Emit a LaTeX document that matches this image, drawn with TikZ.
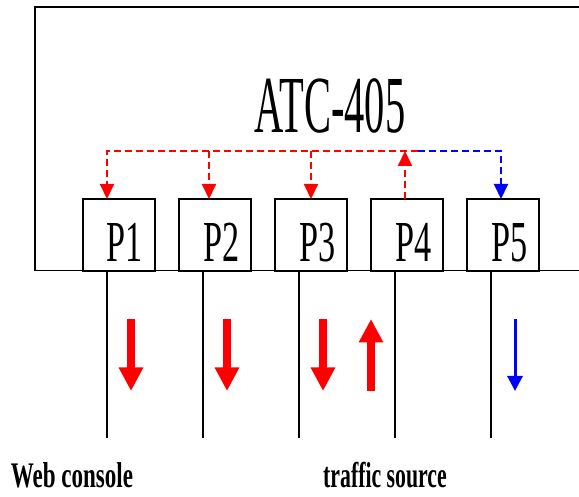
\documentclass[tikz,border=0pt]{standalone}
\usepackage{fontspec}
\setmainfont{Liberation Serif}
\usepackage{graphicx}
\usetikzlibrary{arrows.meta,calc}
\begin{document}
\begin{tikzpicture}[x=1pt,y=-1pt,
  frame/.style={line width=1.8pt},
  pbox/.style={draw, line width=1.8pt, minimum width=72pt, minimum height=72pt, inner sep=0pt, outer sep=0pt},
  plabel/.style={anchor=base, inner sep=0pt, font=\fontsize{58}{58}\selectfont},
  rlink/.style={red, line width=2pt, dash pattern=on 7pt off 4pt},
  blink/.style={blue, line width=2pt, dash pattern=on 7pt off 4pt},
  tipd/.style={-{Triangle[width=14pt,length=15pt]}},
  wire/.style={line width=1.8pt},
  bigarrow/.style={red, line width=8pt, -{Triangle[width=23pt,length=23.5pt]}},
  smallarrow/.style={blue, line width=3pt, -{Triangle[width=15pt,length=15pt]}},
  caption/.style={anchor=base, inner sep=0pt, font=\fontsize{36}{36}\selectfont\bfseries}
]
\useasboundingbox (0,0) rectangle (579,497);
\fill[white] (0,0) rectangle (579,497);
% device frame
\draw[frame] (585,7) -- (35,7) -- (35,270.5) -- (585,270.5);
\node[anchor=base, inner sep=0pt] (title) at (330,133) {\fontsize{81}{81}\selectfont\scalebox{0.5}[1]{ATC-405}};
% ports
\node[pbox] (P1) at (119,235) {};
\node[pbox] (P2) at (215,235) {};
\node[pbox] (P3) at (311,235) {};
\node[pbox] (P4) at (407,235) {};
\node[pbox] (P5) at (503,235) {};
\node[plabel] (t1) at (124.5,262) {\scalebox{0.59}[1]{P1}};
\node[plabel] (t2) at (221.5,262) {\scalebox{0.59}[1]{P2}};
\node[plabel] (t3) at (317.5,262) {\scalebox{0.59}[1]{P3}};
\node[plabel] (t4) at (414,262) {\scalebox{0.59}[1]{P4}};
\node[plabel] (t5) at (510,262) {\scalebox{0.59}[1]{P5}};
% internal bus
\coordinate (bus) at (0,151);
\coordinate (d1) at ($(P1.north)+(-12,0)$);
\coordinate (d2) at ($(P2.north)+(-6,0)$);
\coordinate (d3) at ($(P3.north)+(0,0)$);
\coordinate (d4) at ($(P4.north)+(-2,0)$);
\coordinate (d5) at ($(P5.north)+(-2,0)$);
\coordinate (split) at (418,151);
\draw[rlink,tipd] (split) -- (d1 |- bus) -- (d1);
\draw[rlink,tipd] (d2 |- bus) -- (d2);
\draw[rlink,tipd] (d3 |- bus) -- (d3);
\draw[rlink,tipd] (d4) -- (d4 |- bus);
\draw[blink,tipd] (split) -- (d5 |- bus) -- (d5);
% external wires
\coordinate (low) at (0,438);
\foreach \i in {1,...,5}{
  \coordinate (w\i) at ($(P\i.south)+(-12,0)$);
  \draw[wire] (w\i) -- (w\i |- low);
}
% traffic arrows
\coordinate (top) at (0,319);
\coordinate (bot) at (0,391);
\foreach \i in {1,2,3}{
  \coordinate (a\i) at ($(w\i)+(24,0)$);
  \draw[bigarrow] (a\i |- top) -- (a\i |- bot);
}
\coordinate (a4) at ($(w4)+(-24,0)$);
\draw[bigarrow] (a4 |- bot) -- (a4 |- top);
\coordinate (a5) at ($(w5)+(24,0)$);
\draw[smallarrow] (a5 |- top) -- (a5 |- bot);
% captions
\node[caption] (web) at (72,487) {\scalebox{0.64}[1]{Web console}};
\node[caption] (src) at (385,487) {\scalebox{0.605}[1]{traffic source}};
\end{tikzpicture}
\end{document}
